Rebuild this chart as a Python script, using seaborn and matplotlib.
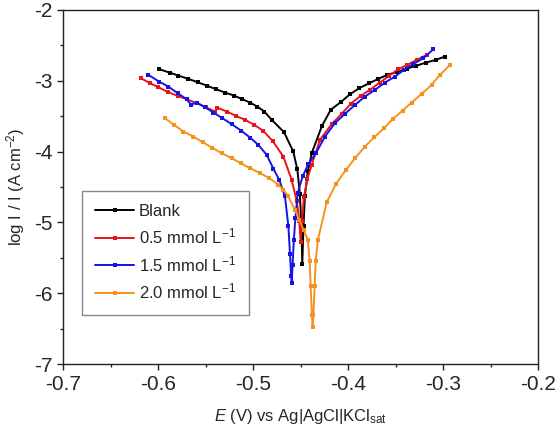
import numpy as np
import pandas as pd
import matplotlib
matplotlib.use("Agg")
import matplotlib.pyplot as plt
import seaborn as sns

# Polarization curves (E in V vs Ag|AgCl|KCl sat, log I in A cm^-2)
blank_E = [-0.599, -0.588, -0.5788, -0.5683, -0.5584, -0.5489, -0.539, -0.5297, -0.5202,
           -0.5114, -0.5033, -0.4956, -0.4882, -0.4805, -0.4675, -0.4578, -0.4535, -0.4508,
           -0.4492, -0.4483, -0.4470, -0.4455, -0.4425, -0.4381, -0.4276, -0.4184, -0.4079,
           -0.3981, -0.3883, -0.3778, -0.3683, -0.3589, -0.3484, -0.3385, -0.3287, -0.3182,
           -0.3077, -0.2982]
blank_logI = [-2.836, -2.884, -2.926, -2.973, -3.020, -3.068, -3.119, -3.166, -3.208,
              -3.260, -3.307, -3.364, -3.434, -3.551, -3.725, -3.998, -4.25, -4.60,
              -5.05, -5.59, -5.05, -4.62, -4.28, -4.013, -3.637, -3.41, -3.302,
              -3.19, -3.104, -3.034, -2.973, -2.917, -2.874, -2.828, -2.79, -2.743,
              -2.705, -2.658]

c05_E = [-0.618, -0.6086, -0.5998, -0.5893, -0.5794, -0.57, -0.5594, -0.55, -0.5402,
         -0.5378, -0.5279, -0.5181, -0.5086, -0.4988, -0.4893, -0.4795, -0.4682, -0.4595,
         -0.4540, -0.4515, -0.450, -0.4488, -0.4465, -0.4428, -0.4384, -0.4297, -0.4174,
         -0.4069, -0.3974, -0.3869, -0.3771, -0.3666, -0.3571, -0.3473, -0.3378, -0.3279,
         -0.3174]
c05_logI = [-2.964, -3.034, -3.09, -3.161, -3.213, -3.26, -3.316, -3.372, -3.434,
            -3.378, -3.434, -3.495, -3.551, -3.622, -3.707, -3.85, -4.069, -4.398,
            -4.70, -4.98, -5.27, -4.98, -4.64, -4.38, -4.186, -3.834, -3.612,
            -3.467, -3.326, -3.213, -3.128, -3.025, -2.931, -2.836, -2.776, -2.705,
            -2.635]

c15_E = [-0.6102, -0.5991, -0.5893, -0.5794, -0.57, -0.5654, -0.5594, -0.5507, -0.5419,
         -0.5324, -0.5226, -0.5128, -0.5033, -0.4946, -0.4858, -0.4787, -0.4725, -0.4665,
         -0.4629, -0.4612, -0.4600, -0.4594, -0.4585, -0.4572, -0.4555, -0.4530, -0.4480,
         -0.4420, -0.4339, -0.4244, -0.4139, -0.4034, -0.3928, -0.3823, -0.3718, -0.3613,
         -0.3507, -0.3413, -0.3314, -0.3209, -0.3104]
c15_logI = [-2.917, -3.011, -3.082, -3.175, -3.26, -3.34, -3.307, -3.372, -3.448,
            -3.528, -3.612, -3.702, -3.801, -3.904, -4.045, -4.24, -4.40, -4.633,
            -5.056, -5.45, -5.75, -5.855, -5.60, -5.25, -4.93, -4.58, -4.35,
            -4.18, -4.021, -3.787, -3.598, -3.467, -3.34, -3.222, -3.128, -3.025,
            -2.94, -2.846, -2.762, -2.682, -2.555]

c20_E = [-0.5928, -0.5833, -0.5735, -0.563, -0.5531, -0.5436, -0.5331, -0.5226, -0.5131,
         -0.5033, -0.4928, -0.483, -0.4734, -0.4682, -0.463, -0.456, -0.4515, -0.4470,
         -0.4425, -0.4405, -0.4395, -0.4382, -0.4374, -0.4366, -0.4353, -0.4342, -0.4320,
         -0.4226, -0.4128, -0.4023, -0.3928, -0.3823, -0.3728, -0.3623, -0.3532, -0.3427,
         -0.3332, -0.3227, -0.3122, -0.3034, -0.2928]
c20_logI = [-3.528, -3.622, -3.716, -3.787, -3.866, -3.942, -4.021, -4.092, -4.163,
            -4.233, -4.303, -4.374, -4.468, -4.539, -4.633, -4.821, -4.962, -5.10,
            -5.244, -5.55, -5.90, -6.30, -6.475, -6.30, -5.90, -5.55, -5.254,
            -4.717, -4.454, -4.257, -4.092, -3.928, -3.80, -3.669, -3.542, -3.42,
            -3.307, -3.185, -3.058, -2.917, -2.776]

labels = ["Blank", "0.5 mmol L$^{-1}$", "1.5 mmol L$^{-1}$", "2.0 mmol L$^{-1}$"]
colors = ["#000000", "#e8141c", "#1414e6", "#f5921e"]

sns.set_theme(style="ticks")
plt.rcParams["font.family"] = ["Liberation Sans", "DejaVu Sans"]
plt.rcParams["mathtext.fontset"] = "custom"
plt.rcParams["mathtext.rm"] = "Liberation Sans"
plt.rcParams["mathtext.it"] = "Liberation Sans:italic"
plt.rcParams["axes.unicode_minus"] = False

fig, ax = plt.subplots(figsize=(5.56, 4.32), dpi=100)
fig.subplots_adjust(left=0.1135, right=0.968, top=0.977, bottom=0.157)

curves = [(blank_E, blank_logI), (c05_E, c05_logI), (c15_E, c15_logI), (c20_E, c20_logI)]
for (E, logI), lab, col in zip(curves, labels, colors):
    sns.lineplot(x=E, y=logI, ax=ax, sort=False, estimator=None, color=col, label=lab,
                 marker="s", markersize=3, markeredgewidth=0, linewidth=1.4)

ax.set_xlim(-0.7, -0.2)
ax.set_ylim(-7, -2)
ax.set_xticks(np.arange(-0.7, -0.19, 0.1))
ax.set_xticks(np.arange(-0.65, -0.2, 0.1), minor=True)
ax.set_yticks(np.arange(-7, -1.9, 1))
ax.set_yticks(np.arange(-6.5, -2, 1), minor=True)
ax.set_xticklabels([f"{v:.1f}" for v in np.arange(-0.7, -0.19, 0.1)])
ax.set_yticklabels([f"{v:.0f}" for v in np.arange(-7, -1.9, 1)])
ax.tick_params(axis="both", which="major", direction="out", length=4, width=1,
               labelsize=15, color="#222222")
ax.tick_params(axis="both", which="minor", direction="out", length=2.5, width=1, color="#222222")
for sp in ax.spines.values():
    sp.set_visible(True)
    sp.set_linewidth(1)
    sp.set_color("#222222")

ax.set_xlabel(r"$\mathit{E}$ (V) vs Ag|AgCl|KCl$_{\rm sat}$", fontsize=12, labelpad=10)
ax.set_ylabel(r"log I / I (A cm$^{-2}$)", fontsize=12, labelpad=5)

leg = ax.legend(loc="upper left", bbox_to_anchor=(0.0225, 0.5126), fontsize=12,
                frameon=True, fancybox=False, framealpha=1, edgecolor="#888888",
                handlelength=2.3, labelspacing=0.45, borderpad=0.8, handletextpad=0.3)
leg.get_frame().set_linewidth(1)

plt.savefig("out.png", dpi=100)
plt.close()
